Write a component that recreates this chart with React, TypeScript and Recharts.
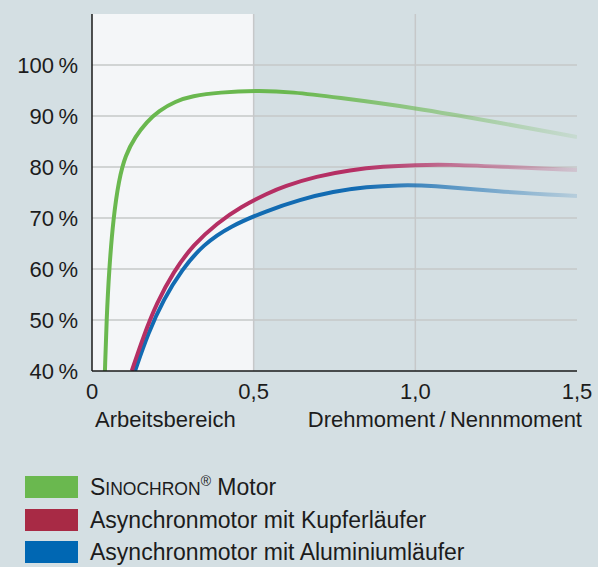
import { LineChart, Line, XAxis, YAxis, ReferenceArea, ReferenceLine } from 'recharts';

// Drehmoment/Nennmoment -> Wirkungsgrad in %
const sinochron = [
    { x: 0.04, y: 40 }, { x: 0.045, y: 50 }, { x: 0.053, y: 60 }, { x: 0.066, y: 70 },
    { x: 0.083, y: 77.5 }, { x: 0.103, y: 82.3 }, { x: 0.134, y: 86.0 }, { x: 0.17, y: 88.9 },
    { x: 0.206, y: 91.0 }, { x: 0.258, y: 92.9 }, { x: 0.309, y: 93.9 }, { x: 0.392, y: 94.65 },
    { x: 0.516, y: 95.0 }, { x: 0.62, y: 94.7 }, { x: 0.75, y: 93.7 }, { x: 1.0, y: 91.6 },
    { x: 1.25, y: 88.8 }, { x: 1.5, y: 85.9 },
];

const kupfer = [
    { x: 0.123, y: 40 }, { x: 0.159, y: 46.8 }, { x: 0.2, y: 53.3 }, { x: 0.252, y: 59.5 },
    { x: 0.314, y: 64.8 }, { x: 0.387, y: 69.0 }, { x: 0.46, y: 72.2 }, { x: 0.545, y: 74.9 },
    { x: 0.592, y: 76.2 }, { x: 0.695, y: 78.2 }, { x: 0.798, y: 79.4 }, { x: 0.901, y: 80.1 },
    { x: 1.0, y: 80.4 }, { x: 1.1, y: 80.5 }, { x: 1.25, y: 80.1 }, { x: 1.5, y: 79.4 },
];

const aluminium = [
    { x: 0.133, y: 40 }, { x: 0.174, y: 47.5 }, { x: 0.221, y: 54.0 }, { x: 0.278, y: 59.9 },
    { x: 0.344, y: 64.8 }, { x: 0.427, y: 68.4 }, { x: 0.54, y: 71.4 }, { x: 0.643, y: 73.6 },
    { x: 0.746, y: 75.2 }, { x: 0.849, y: 76.1 }, { x: 0.953, y: 76.45 }, { x: 1.045, y: 76.4 },
    { x: 1.25, y: 75.2 }, { x: 1.5, y: 74.3 },
];

const xTicks = [0, 0.5, 1, 1.5];
const xTickLabels = ["0", "0,5", "1,0", "1,5"];
const yTicks = [40, 50, 60, 70, 80, 90, 100];
const gridX = [0.5, 1];
const arbeitsbereich = [0, 0.5];

const legendItems = [
    { key: "sino", color: "#6ab84f" },
    { key: "cu", color: "#a82a45" },
    { key: "al", color: "#0067b3" },
];

const font = '"Liberation Sans", Arial, sans-serif';
const textColor = "#1c1c1c";

function LegendLabel({ id }: { id: string }) {
    if (id === "sino") {
        return (
            <span>
                S<span style={{ fontSize: 17.5 }}>INOCHRON</span>
                <span style={{ fontSize: 14, position: "relative", top: -9 }}>®</span> Motor
            </span>
        );
    }
    if (id === "cu") return <span>Asynchronmotor mit Kupferläufer</span>;
    return <span>Asynchronmotor mit Aluminiumläufer</span>;
}

function App() {
    const rowTops = [476, 508.5, 541];

    return (
        <div style={{ position: "absolute", left: 0, top: 0, width: 598, height: 567, background: "#d4dfe3", fontFamily: font, color: textColor }}>
            <LineChart width={598} height={420} margin={{ top: 14, right: 21, left: 0, bottom: 24 }}>
                <defs>
                    <linearGradient id="fadeG" x1="0" y1="0" x2="1" y2="0">
                        <stop offset="0" stopColor="#6ab84f" stopOpacity={1} />
                        <stop offset="0.4" stopColor="#6ab84f" stopOpacity={1} />
                        <stop offset="1" stopColor="#6ab84f" stopOpacity={0.12} />
                    </linearGradient>
                    <linearGradient id="fadeR" x1="0" y1="0" x2="1" y2="0">
                        <stop offset="0" stopColor="#b52f64" stopOpacity={1} />
                        <stop offset="0.5" stopColor="#b52f64" stopOpacity={1} />
                        <stop offset="1" stopColor="#b52f64" stopOpacity={0.15} />
                    </linearGradient>
                    <linearGradient id="fadeB" x1="0" y1="0" x2="1" y2="0">
                        <stop offset="0" stopColor="#126bb2" stopOpacity={1} />
                        <stop offset="0.5" stopColor="#126bb2" stopOpacity={1} />
                        <stop offset="1" stopColor="#126bb2" stopOpacity={0.15} />
                    </linearGradient>
                </defs>
                <XAxis
                    type="number"
                    dataKey="x"
                    domain={[0, 1.5]}
                    ticks={xTicks}
                    allowDataOverflow
                    height={25}
                    tickSize={0}
                    tickMargin={12}
                    tickFormatter={(v: number) => xTickLabels[xTicks.indexOf(v)]}
                    tick={{ fontSize: 22, fill: textColor, fontFamily: font }}
                    axisLine={{ stroke: "#1a1a1a", strokeWidth: 1.5 }}
                />
                <YAxis
                    type="number"
                    domain={[40, 110]}
                    ticks={yTicks}
                    allowDataOverflow
                    width={92}
                    tickSize={0}
                    tickMargin={14}
                    tickFormatter={(v: number) => `${v}\u2009%`}
                    tick={{ fontSize: 22, fill: textColor, fontFamily: font }}
                    axisLine={{ stroke: "#1a1a1a", strokeWidth: 1.5 }}
                />
                <ReferenceArea x1={arbeitsbereich[0]} x2={arbeitsbereich[1]} y1={40} y2={110} fill="#f4f6f8" fillOpacity={1} stroke="none" />
                {yTicks.slice(1).map((t) => (
                    <ReferenceLine key={"y" + t} y={t} stroke="#c6c8c9" strokeWidth={1.5} />
                ))}
                {gridX.map((t) => (
                    <ReferenceLine key={"x" + t} x={t} stroke="#c6c8c9" strokeWidth={1.5} />
                ))}
                <Line data={aluminium} dataKey="y" type="basis" dot={false} activeDot={false} stroke="url(#fadeB)" strokeWidth={4} isAnimationActive={false} />
                <Line data={kupfer} dataKey="y" type="basis" dot={false} activeDot={false} stroke="url(#fadeR)" strokeWidth={4} isAnimationActive={false} />
                <Line data={sinochron} dataKey="y" type="basis" dot={false} activeDot={false} stroke="url(#fadeG)" strokeWidth={4} isAnimationActive={false} />
            </LineChart>

            <div style={{ position: "absolute", left: 95, top: 409, fontSize: 22, lineHeight: "22px" }}>Arbeitsbereich</div>
            <div style={{ position: "absolute", right: 16, top: 409, fontSize: 22, lineHeight: "22px", whiteSpace: "nowrap" }}>
                Drehmoment{"\u2009/\u2009"}Nennmoment
            </div>

            {legendItems.map((item, i) => (
                <div key={item.key}>
                    <div style={{ position: "absolute", left: 25, top: rowTops[i], width: 53, height: 22, background: item.color }} />
                    <div style={{ position: "absolute", left: 90, top: rowTops[i], fontSize: 23, lineHeight: "23px", whiteSpace: "nowrap" }}>
                        <LegendLabel id={item.key} />
                    </div>
                </div>
            ))}
        </div>
    );
}

export default App;
